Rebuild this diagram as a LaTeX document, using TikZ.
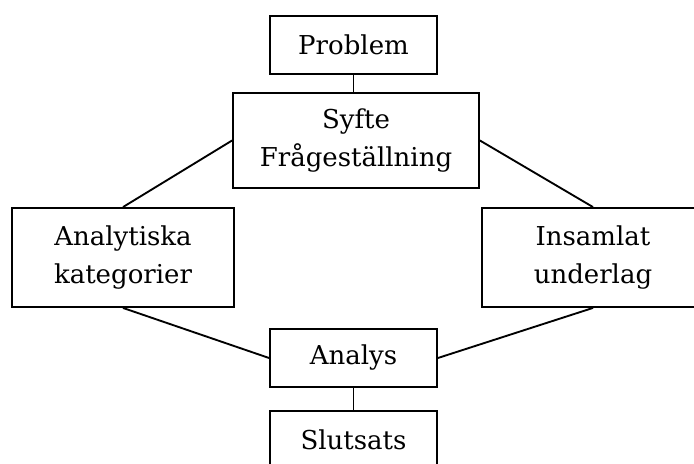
\documentclass[tikz,border=0pt]{standalone}
\usepackage{fontspec}
\setmainfont{DejaVu Serif}
\usepackage{tikz}
\tikzstyle{ruta} = [draw=black, line width=1.4pt, rectangle, align=center, inner sep=0pt, font=\fontsize{19.5}{28.5}\selectfont]
\tikzstyle{liten} = [ruta, minimum width=125.25pt, minimum height=43.5pt]
\tikzstyle{stor} = [ruta, minimum width=166.5pt, minimum height=74.25pt]
\tikzstyle{linje} = [draw=black, line width=1.4pt]

\begin{document}
\begin{tikzpicture}[x=0.75pt, y=-0.75pt]
		\useasboundingbox (0,0) rectangle (694,464);
		\node[liten](problem) at (353.5,45) {Problem};
		\node[ruta, minimum width=184.5pt, minimum height=71.25pt](syfte) at (356,140.5) {Syfte\\Frågeställning};
		\node[stor](kategorier) at (123,257.5) {Analytiska\\kategorier};
		\node[stor](underlag) at (593,257.5) {Insamlat\\underlag};
		\node[liten](analys) at (353.5,358) {Analys};
		\node[liten](slutsats) at (353.5,440) {Slutsats};
		\draw[linje] (problem.south) -- (problem.south |- syfte.north);
		\draw[linje] (kategorier.north) -- (syfte.west);
		\draw[linje] (underlag.north) -- (syfte.east);
		\draw[linje] (kategorier.south) -- (analys.west);
		\draw[linje] (underlag.south) -- (analys.east);
		\draw[linje] (analys.south) -- (slutsats.north);
	\end{tikzpicture}
\end{document}
